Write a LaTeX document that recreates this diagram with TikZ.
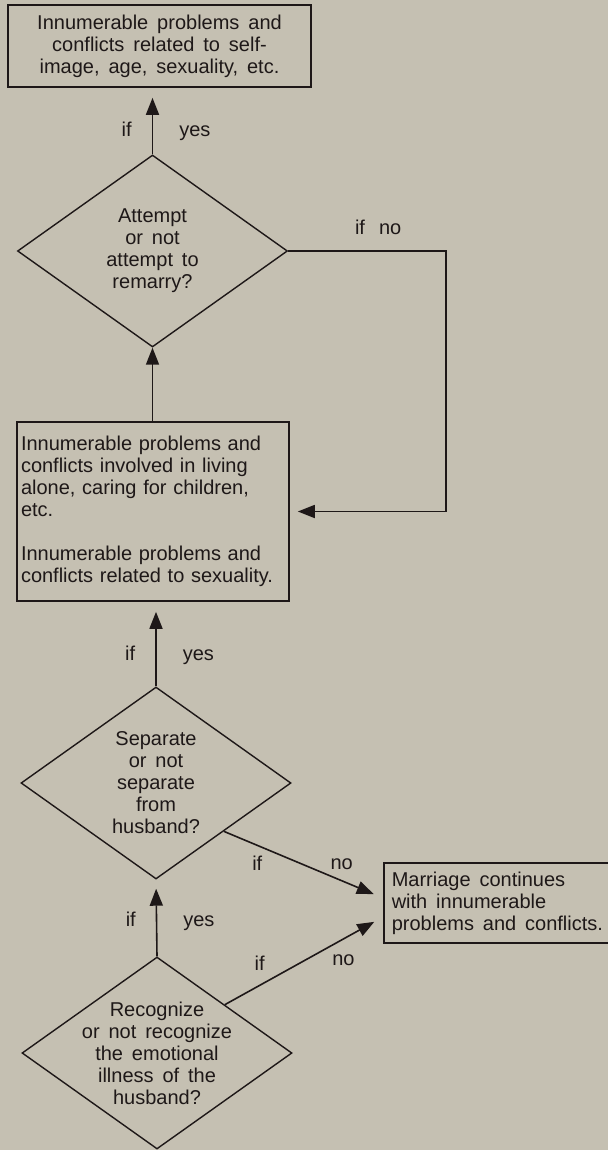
\documentclass[tikz,border=0pt]{standalone}
\usepackage{fontspec}
\setmainfont{Liberation Sans}[WordSpace=1.6]
\usepackage{xcolor}
\usepackage{tikz}
\usetikzlibrary{positioning, arrows.meta, shapes.geometric}

\definecolor{paper}{RGB}{197,192,178}
\definecolor{ink}{RGB}{30,24,24}

\begin{document}
\begin{tikzpicture}[x=0.5pt, y=-0.5pt,
  bx/.style={draw=ink, line width=0.8pt, text=ink,
             font=\fontsize{10}{11}\selectfont},
  dm/.style={draw=ink, diamond, line width=0.7pt, inner sep=0pt,
             minimum width=135pt, minimum height=96pt},
  tx/.style={align=center, text=ink, font=\fontsize{10}{11}\selectfont},
  ar/.style={-{Triangle[length=8.5pt, width=6.5pt]}, ink, line width=0.8pt},
  lb/.style={text=ink, inner sep=0pt, text height=7pt, text depth=2pt,
             font=\fontsize{10}{11}\selectfont}]
\fill[paper] (0,0) rectangle (608,1150);
\useasboundingbox (0,0) rectangle (608,1150);
\node[bx, align=center, minimum width=151.5pt, minimum height=41pt] (top) at (159.5,46)
  {Innumerable problems and\\conflicts related to self-\\image, age, sexuality, etc.};
\node[dm] (d1) at (152.5,251) {};
\node[tx] (d1t) at (d1) {Attempt\\or not\\attempt to\\remarry?};
\node[bx, align=left, text width=132pt, inner xsep=2pt, minimum height=89.5pt] (b2) at (153,511.5)
  {Innumerable problems and\\conflicts involved in living\\alone, caring for children,\\etc.\\[11pt]Innumerable problems and\\conflicts related to sexuality.};
\node[dm] (d2) at (156,783) {};
\node[tx] (d2t) at (d2) {Separate\\or not\\separate\\from\\husband?};
\node[dm] (d3) at (157,1053) {};
\node[tx] (d3t) at (d3) {Recognize\\or not recognize\\the emotional\\illness of the\\husband?};
\node[bx, align=left, anchor=west, inner xsep=4pt, minimum height=40pt] (b3) at (383,903)
  {Marriage continues\\with innumerable\\problems and conflicts.};
\coordinate (turn) at (446,0);
\draw[ar, shorten >=5pt] (d1.north) -- node[lb, pos=0.35, left=10pt]{if}
  node[lb, pos=0.35, right=13pt]{yes} (d1.north |- top.south);
\draw[ar] (d1.south |- b2.north) -- (d1.south);
\draw[ar, shorten >=4pt] (d1.east) -- node[lb, pos=0.57, above=6pt]{if\hspace{7pt}no}
  (d1.east -| turn) |- (b2.east);
\draw[ar, shorten >=5pt] (d2.north) -- node[lb, pos=0.37, left=10pt]{if}
  node[lb, pos=0.37, right=13pt]{yes} (d2.north |- b2.south);
\draw[ar, shorten >=4.5pt] (d3.north) -- node[lb, pos=0.45, left=10pt]{if}
  node[lb, pos=0.45, right=13pt]{yes} (d2.south);
\draw[ar, shorten >=5pt] (d2.south east) -- node[lb, pos=0.21, below=5pt]{if}
  node[lb, pos=0.74, above=3pt]{no} ([yshift=2.5pt]b3.west);
\draw[ar, shorten >=5pt] (d3.north east) -- node[lb, pos=0.22, above=5pt]{if}
  node[lb, pos=0.75, below=6pt]{no} ([yshift=-7pt]b3.west);
\end{tikzpicture}
\end{document}
